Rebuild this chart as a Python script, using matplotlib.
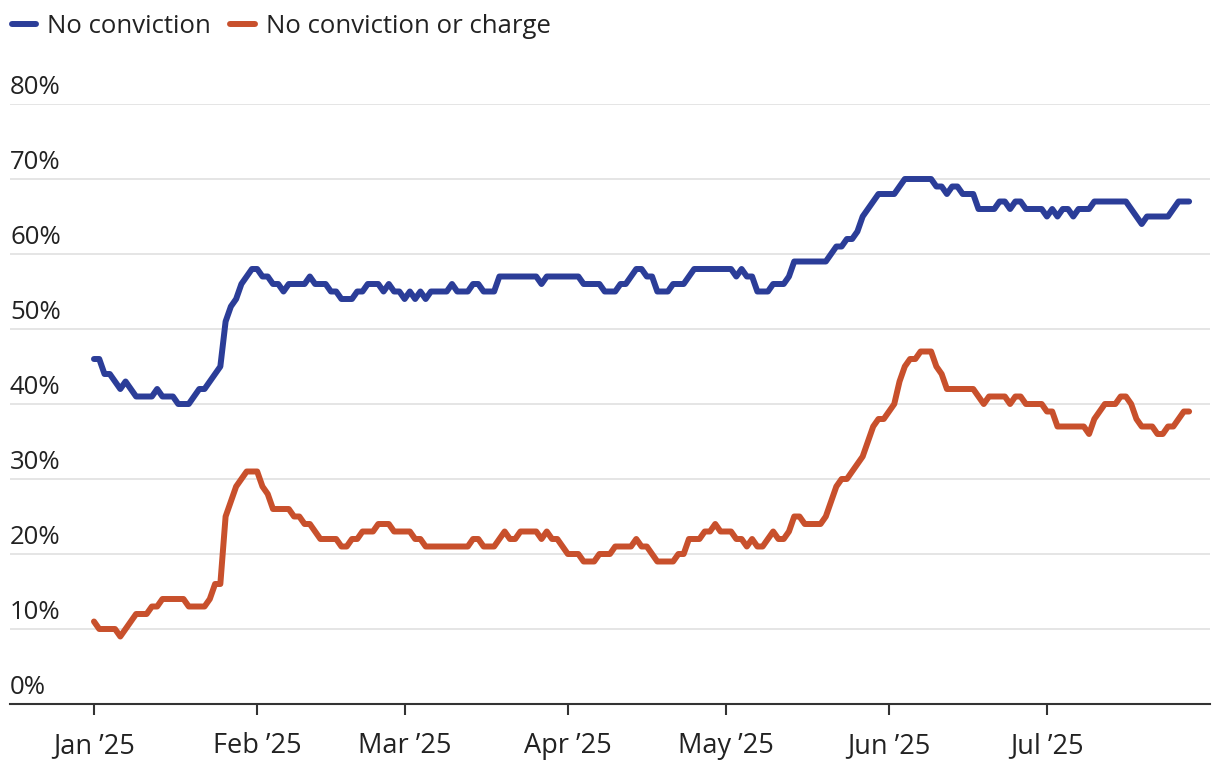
import matplotlib
matplotlib.use("Agg")
import matplotlib.pyplot as plt
import matplotlib.dates as mdates
import pandas as pd

plt.rcParams['font.family'] = ['Open Sans', 'DejaVu Sans']

start = pd.Timestamp("2025-01-01")

# days since Jan 1 2025 at each vertex, with the value (%)
conv_days = [0, 1, 2, 3, 5, 6, 8, 11, 12, 13, 15, 16, 18, 20, 21, 24, 25, 26, 27, 28,
             30, 31, 32, 33, 34, 35, 36, 37, 40, 41, 42, 44, 45, 46, 47, 49, 50, 51, 52, 54,
             55, 56, 57, 58, 59, 60, 61, 62, 63, 64, 67, 68, 69, 71, 72, 73, 74, 76, 77, 84,
             85, 86, 92, 93, 96, 97, 99, 100, 101, 103, 104, 105, 106, 107, 109, 110, 112, 114, 121, 122,
             123, 124, 125, 126, 128, 129, 131, 132, 133, 139, 140, 141, 142, 143, 144, 145, 146, 147, 149, 152,
             153, 154, 159, 160, 161, 162, 163, 164, 165, 167, 168, 171, 172, 173, 174, 175, 176, 177, 180, 181,
             182, 183, 184, 185, 186, 187, 189, 190, 196, 199, 200, 204, 206, 208]
conv_vals = [46, 46, 44, 44, 42, 43, 41, 41, 42, 41, 41, 40, 40, 42, 42, 45, 51, 53, 54, 56,
             58, 58, 57, 57, 56, 56, 55, 56, 56, 57, 56, 56, 55, 55, 54, 54, 55, 55, 56, 56,
             55, 56, 55, 55, 54, 55, 54, 55, 54, 55, 55, 56, 55, 55, 56, 56, 55, 55, 57, 57,
             56, 57, 57, 56, 56, 55, 55, 56, 56, 58, 58, 57, 57, 55, 55, 56, 56, 58, 58, 57,
             58, 57, 57, 55, 55, 56, 56, 57, 59, 59, 60, 61, 61, 62, 62, 63, 65, 66, 68, 68,
             69, 70, 70, 69, 69, 68, 69, 69, 68, 68, 66, 66, 67, 67, 66, 67, 67, 66, 66, 65,
             66, 65, 66, 66, 65, 66, 66, 67, 67, 64, 65, 65, 67, 67]

charge_days = [0, 1, 4, 5, 8, 10, 11, 12, 13, 17, 18, 21, 22, 23, 24, 25, 26, 27, 28, 29,
               31, 32, 33, 34, 37, 38, 39, 40, 41, 43, 46, 47, 48, 49, 50, 51, 53, 54, 56, 57,
               60, 61, 62, 63, 71, 72, 73, 74, 76, 78, 79, 80, 81, 84, 85, 86, 87, 88, 90, 92,
               93, 95, 96, 98, 99, 102, 103, 104, 105, 107, 110, 111, 112, 113, 115, 116, 117, 118, 119, 121,
               122, 123, 124, 125, 126, 127, 129, 130, 131, 132, 133, 134, 135, 138, 139, 140, 141, 142, 143, 144,
               145, 146, 148, 149, 150, 151, 152, 153, 154, 155, 156, 157, 159, 160, 161, 162, 167, 169, 170, 173,
               174, 175, 176, 177, 180, 181, 182, 183, 188, 189, 190, 192, 194, 195, 196, 197, 198, 199, 201, 202,
               203, 204, 205, 207, 208]
charge_vals = [11, 10, 10, 9, 12, 12, 13, 13, 14, 14, 13, 13, 14, 16, 16, 25, 27, 29, 30, 31,
               31, 29, 28, 26, 26, 25, 25, 24, 24, 22, 22, 21, 21, 22, 22, 23, 23, 24, 24, 23,
               23, 22, 22, 21, 21, 22, 22, 21, 21, 23, 22, 22, 23, 23, 22, 23, 22, 22, 20, 20,
               19, 19, 20, 20, 21, 21, 22, 21, 21, 19, 19, 20, 20, 22, 22, 23, 23, 24, 23, 23,
               22, 22, 21, 22, 21, 21, 23, 22, 22, 23, 25, 25, 24, 24, 25, 27, 29, 30, 30, 31,
               32, 33, 37, 38, 38, 39, 40, 43, 45, 46, 46, 47, 47, 45, 44, 42, 42, 40, 41, 41,
               40, 41, 41, 40, 40, 39, 39, 37, 37, 36, 38, 40, 40, 41, 41, 40, 38, 37, 37, 36,
               36, 37, 37, 39, 39]

series_names = ["No conviction", "No conviction or charge"]
series_colors = ["#2b3d98", "#c8502c"]
y_ticks = [0, 10, 20, 30, 40, 50, 60, 70, 80]
month_ticks = ["2025-01-01", "2025-02-01", "2025-03-01", "2025-04-01",
               "2025-05-01", "2025-06-01", "2025-07-01"]

conv_dates = [start + pd.Timedelta(days=d) for d in conv_days]
charge_dates = [start + pd.Timedelta(days=d) for d in charge_days]

fig = plt.figure(figsize=(12.2, 7.64), dpi=100)
ax = fig.add_axes([10 / 1220, 60 / 764, 1200 / 1220, 600 / 764])

for dates, vals, name, col in [(conv_dates, conv_vals, series_names[0], series_colors[0]),
                               (charge_dates, charge_vals, series_names[1], series_colors[1])]:
    ax.plot(dates, vals, color=col, lw=4.3, label=name,
            solid_capstyle='round', solid_joinstyle='round', zorder=3)

ax.set_xlim(start - pd.Timedelta(days=15.95), start + pd.Timedelta(days=211.97))
ax.set_ylim(0, 80)

ax.set_yticks(y_ticks)
ax.yaxis.grid(True, color='#e3e3e3', lw=1.3)
ax.set_axisbelow(True)
ax.tick_params(axis='y', length=0, labelleft=False)
for v in y_ticks:
    ax.text(0, v + 1.35, f"{v}%", transform=ax.get_yaxis_transform(),
            ha='left', va='baseline', fontsize=18.5, color='#222222')

ax.set_xticks([pd.Timestamp(m) for m in month_ticks])
ax.xaxis.set_major_formatter(mdates.DateFormatter("%b \u201925"))
ax.tick_params(axis='x', length=8, width=1.5, color='#333333', pad=12.5,
               labelsize=19.5, labelcolor='#222222')

for s in ['top', 'right', 'left']:
    ax.spines[s].set_visible(False)
ax.spines['bottom'].set_color('#333333')
ax.spines['bottom'].set_linewidth(1.5)

leg = fig.legend(loc='upper left', bbox_to_anchor=(12 / 1220, 1 - 14 / 764), ncol=2, frameon=False,
                 fontsize=18.5, handlelength=0.95, handletextpad=0.42, columnspacing=0.75,
                 borderpad=0.0, borderaxespad=0.0)
for t in leg.get_texts():
    t.set_color('#222222')

fig.savefig("out.png", dpi=100)
